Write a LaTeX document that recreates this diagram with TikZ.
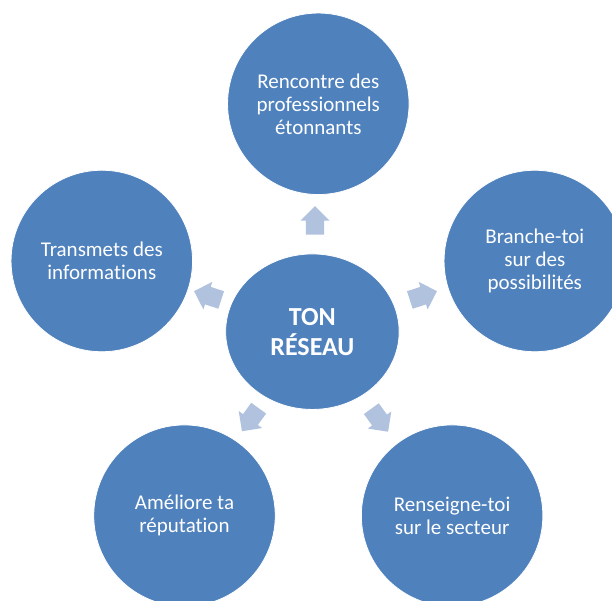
\documentclass[tikz,border=0pt]{standalone}
\usepackage{fontspec}
\setmainfont[Ligatures=NoCommon,RawFeature={-liga;-clig}]{Carlito}
\usetikzlibrary{shapes.geometric,shapes.arrows}
\definecolor{cblue}{HTML}{4F81BD}
\definecolor{ablue}{HTML}{B0C2DE}
\begin{document}
\begin{tikzpicture}[x=1pt,y=1pt,
  outer/.style={circle,fill=cblue,draw=white,line width=0.8pt,minimum size=181.5pt,inner sep=0pt,
    text=white,align=center,font=\fontsize{21}{23}\selectfont},
  hub/.style={ellipse,fill=cblue,draw=white,line width=0.8pt,minimum width=173.5pt,minimum height=155.5pt,inner sep=0pt,
    text=white,align=center,font=\fontsize{26}{30}\selectfont\bfseries},
  blockarrow/.style={single arrow,fill=ablue,draw=none,inner xsep=0pt,inner ysep=9pt,
    minimum height=28.5pt,single arrow head extend=5.3pt,
    single arrow head indent=0pt,single arrow tip angle=90}]
\useasboundingbox (0,0) rectangle (612,601);
\node[hub] (c) at (312.4,269.3) {TON\\RÉSEAU};
\node[outer] (t) at (318.3,497.2) {Rencontre des\\professionnels\\étonnants};
\node[outer] (r) at (534.8,340) {Branche-toi\\sur des\\possibilités};
\node[outer] (l) at (101.8,340) {Transmets des\\informations};
\node[outer] (bl) at (184.5,85.3) {Améliore ta\\réputation};
\node[outer] (br) at (452.1,85.3) {Renseigne-toi\\sur le secteur};
\node[blockarrow,rotate=90] (at) at (315,376) {};
\node[blockarrow,rotate=18] (ar) at (419,304) {};
\node[blockarrow,rotate=162] (al) at (212,304) {};
\node[blockarrow,rotate=234] (abl) at (253,185) {};
\node[blockarrow,rotate=-54] (abr) at (377,184.5) {};
\end{tikzpicture}
\end{document}
